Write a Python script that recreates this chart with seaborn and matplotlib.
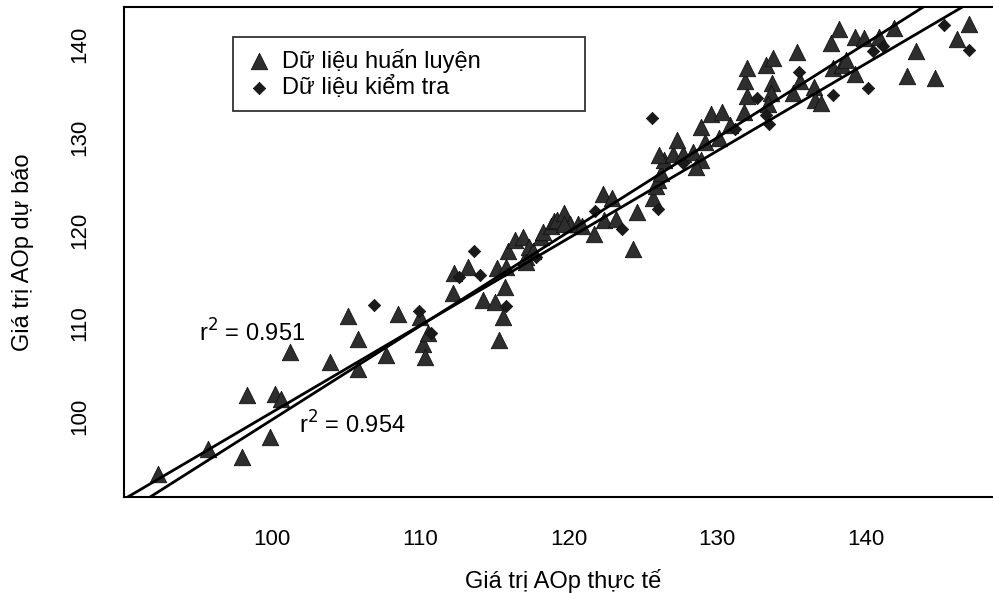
import matplotlib
matplotlib.use("Agg")
import matplotlib.pyplot as plt
import numpy as np
import pandas as pd
import seaborn as sns

# training set (triangles): actual vs predicted AOp
train_actual = [92.3, 95.7, 98.0, 98.3, 99.9, 100.2, 100.6, 101.2, 103.9, 105.1,
                105.8, 105.8, 107.7, 108.5, 110.0, 110.2, 110.3, 110.5, 112.2, 112.3,
                113.2, 114.2, 115.0, 115.6, 115.3, 115.2, 115.7, 115.8, 115.9, 116.4,
                116.9, 117.1, 117.3, 117.6, 117.1, 118.1, 118.3, 118.8, 119.0, 119.2,
                119.7, 120.1, 120.6, 120.9, 119.7, 121.7, 122.3, 122.9, 122.4, 123.2,
                124.6, 124.3, 125.7, 125.9, 126.0, 126.2, 126.4, 126.1, 127.0, 127.7,
                127.3, 128.4, 128.9, 128.6, 129.2, 130.1, 128.9, 130.9, 129.6, 130.3,
                131.8, 132.0, 131.9, 132.0, 133.3, 133.8, 133.7, 133.6, 133.4, 135.1,
                135.4, 135.6, 136.5, 136.6, 137.0, 137.8, 137.7, 138.2, 138.4, 138.7,
                139.3, 139.3, 139.9, 140.9, 141.9, 143.4, 142.8, 144.7, 146.2, 147.0]
train_pred = [93.8, 96.5, 95.6, 102.3, 97.8, 102.4, 101.8, 106.9, 105.8, 110.8,
              108.3, 105.1, 106.6, 111.0, 110.7, 107.7, 106.3, 108.9, 113.2, 115.4,
              116.0, 112.5, 112.3, 110.7, 108.2, 115.9, 113.9, 116.0, 117.7, 118.9,
              119.3, 117.1, 118.2, 117.8, 116.6, 119.3, 119.8, 120.4, 121.0, 121.1,
              121.8, 120.7, 120.6, 120.4, 120.6, 119.6, 123.9, 123.4, 121.1, 121.2,
              121.9, 118.0, 123.4, 124.7, 125.4, 126.1, 127.5, 128.1, 128.2, 128.2,
              129.7, 128.4, 127.5, 126.8, 129.5, 129.9, 131.1, 131.3, 132.5, 132.7,
              132.7, 134.4, 136.0, 137.4, 137.7, 138.5, 135.8, 134.7, 133.6, 134.7,
              139.1, 136.0, 135.4, 134.0, 133.7, 137.4, 140.1, 141.6, 137.7, 138.3,
              136.8, 140.8, 140.6, 140.8, 141.7, 139.2, 136.6, 136.3, 140.5, 142.2]

# test set (diamonds)
test_actual = [106.9, 109.9, 110.7, 112.6, 113.6, 114.0, 115.8, 117.8, 121.8, 123.6,
               125.6, 126.0, 127.7, 131.2, 132.7, 133.3, 133.5, 135.5, 137.8, 140.2,
               140.5, 141.2, 145.3, 147.0]
test_pred = [111.9, 111.3, 108.9, 114.9, 117.7, 115.2, 111.8, 117.1, 122.1, 120.1,
             132.0, 122.3, 127.2, 130.9, 134.2, 132.4, 131.4, 137.0, 134.5, 135.3,
             139.3, 139.8, 142.0, 139.4]

# fitted lines (intercept, slope)
fit_lines = [(-1.50, 1.011), (6.74, 0.9366)]
r2_labels = ["r$^2$ = 0.951", "r$^2$ = 0.954"]
r2_pos = [(95.1, 108.9), (101.8, 99.0)]

legend_labels = ["Dữ liệu huấn luyện", "Dữ liệu kiểm tra"]

sns.set_style("white")
plt.rcParams["font.family"] = ["Liberation Sans", "DejaVu Sans"]
plt.rcParams["font.size"] = 16
plt.rcParams["text.color"] = "black"
plt.rcParams["axes.labelcolor"] = "black"
plt.rcParams["xtick.color"] = "black"
plt.rcParams["ytick.color"] = "black"

train_df = pd.DataFrame({"actual": train_actual, "pred": train_pred})
test_df = pd.DataFrame({"actual": test_actual, "pred": test_pred})

fig = plt.figure(figsize=(9.93, 5.93), dpi=100)
ax = fig.add_axes([124 / 993, 96 / 593, 878 / 993, 490 / 593])

sns.scatterplot(data=train_df, x="actual", y="pred", marker="^", s=140,
                color="#2e2e2e", edgecolor="#111111", linewidth=0.6,
                label=legend_labels[0], ax=ax)
sns.scatterplot(data=test_df, x="actual", y="pred", marker="D", s=40,
                color="#1a1a1a", edgecolor="#111111", linewidth=0.5,
                label=legend_labels[1], ax=ax)

for b, m in fit_lines:
    ax.axline((100, b + m * 100), slope=m, color="black", lw=2.0, zorder=1)

for txt, (tx, ty) in zip(r2_labels, r2_pos):
    ax.text(tx, ty, txt, ha="left", va="center", fontsize=17)

ax.set_xlim(90.03, 149.2)
ax.set_ylim(91.3, 143.98)
ax.set_xticks([100, 110, 120, 130, 140])
ax.set_yticks([100, 110, 120, 130, 140])
ax.tick_params(axis="both", direction="out", length=10, width=1.2,
               color="black", labelcolor="black", labelsize=16)
ax.tick_params(axis="x", pad=13)
ax.tick_params(axis="y", pad=14)
for lab in ax.get_yticklabels():
    lab.set_rotation(90)
    lab.set_va("center")

for sp in ax.spines.values():
    sp.set_color("black")
    sp.set_linewidth(1.5)

ax.set_xlabel("Giá trị AOp thực tế", fontsize=17, labelpad=14, color="black")
ax.set_ylabel("Giá trị AOp dự báo", fontsize=17, labelpad=26, color="black")

leg = ax.legend(loc="upper left", bbox_to_anchor=(0.124, 0.79, 0.401, 0.149),
                mode="expand", frameon=True, fancybox=False, fontsize=17,
                handletextpad=0.4, borderpad=0.5, labelspacing=0.15,
                handlelength=1.2, borderaxespad=0)
leg.get_frame().set_edgecolor("black")
leg.get_frame().set_linewidth(1.3)
for t in leg.get_texts():
    t.set_color("black")

fig.savefig("out.png", dpi=100)
